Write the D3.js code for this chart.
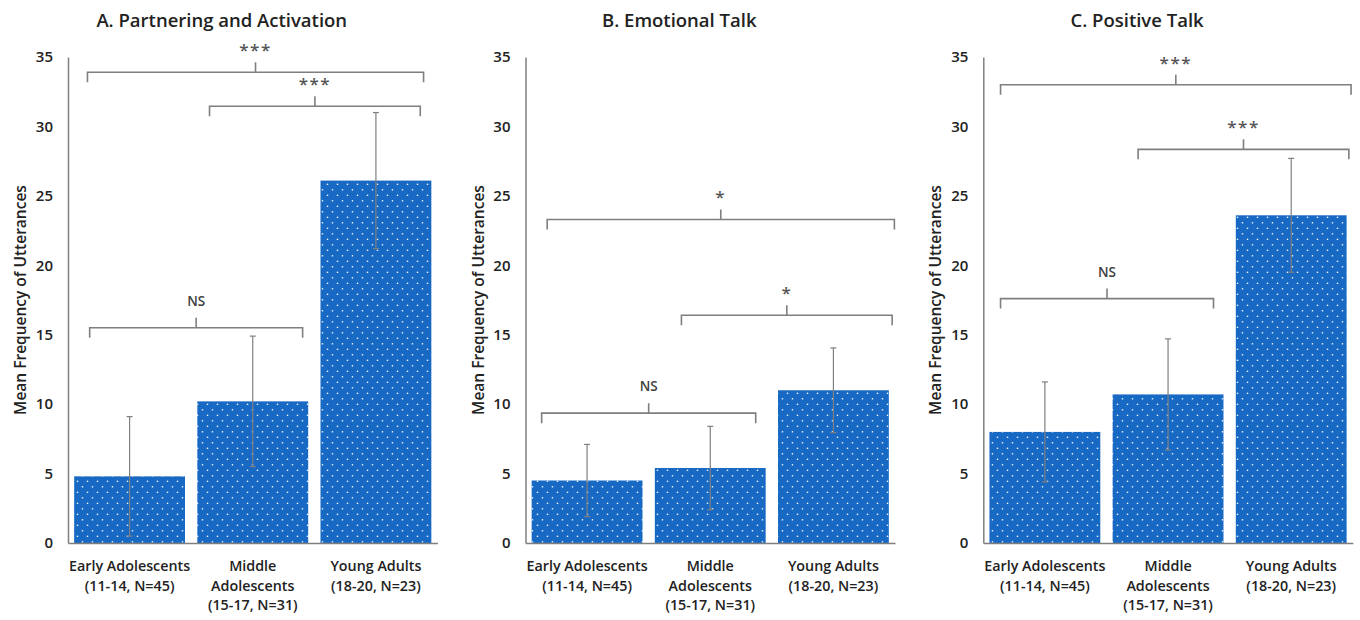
<!DOCTYPE html>
<html>
<head>
<meta charset="utf-8">
<script src="https://cdn.jsdelivr.net/npm/d3@7"></script>
<style>
  html, body { margin: 0; padding: 0; background: #fff; }
  svg { display: block; font-family: "Open Sans", "DejaVu Sans", sans-serif; }
</style>
</head>
<body>
<svg id="chart" width="1360" height="620"></svg>
<script>
// ---------- data ----------
const categories = [
  ["Early Adolescents", "(11-14, N=45)"],
  ["Middle", "Adolescents", "(15-17, N=31)"],
  ["Young Adults", "(18-20, N=23)"]
];
const panelTitles = ["A. Partnering and Activation", "B. Emotional Talk", "C. Positive Talk"];
const yTicks = [0, 5, 10, 15, 20, 25, 30, 35];
const yLabel = "Mean Frequency of Utterances";

const partneringMeans = [4.8, 10.2, 26.1];
const partneringErr   = [4.3, 4.7, 4.9];
const emotionalMeans  = [4.5, 5.4, 11.0];
const emotionalErr    = [2.6, 3.0, 3.05];
const positiveMeans   = [8.0, 10.7, 23.6];
const positiveErr     = [3.6, 4.0, 4.1];

// significance brackets: [fromCategory, fromFraction, toCategory, toFraction, level, label]
const partneringBrackets = [
  [0, 0.12, 2, 0.93, 33.9, "***"],
  [1, 0.11, 2, 0.90, 31.45, "***"],
  [0, 0.14, 1, 0.95, 15.5, "NS"]
];
const emotionalBrackets = [
  [0, 0.14, 2, 1.05, 23.3, "*"],
  [1, 0.24, 2, 1.03, 16.4, "*"],
  [0, 0.09, 1, 0.91, 9.35, "NS"]
];
const positiveBrackets = [
  [0, 0.10, 2, 1.04, 33.0, "***"],
  [1, 0.23, 2, 1.02, 28.35, "***"],
  [0, 0.10, 1, 0.91, 17.6, "NS"]
];

const panels = [
  { title: panelTitles[0], means: partneringMeans, err: partneringErr, brackets: partneringBrackets },
  { title: panelTitles[1], means: emotionalMeans,  err: emotionalErr,  brackets: emotionalBrackets },
  { title: panelTitles[2], means: positiveMeans,   err: positiveErr,   brackets: positiveBrackets }
];

// ---------- layout ----------
const svg = d3.select("#chart");
const axisLefts = [68, 525.5, 983.3];
const plotW = 369.5;
const yTop = 57, yBottom = 543;
const barColor = "#1769c4";
const grey = "#7f7f7f";
const textColor = "#222";

const defs = svg.append("defs");
const pat = defs.append("pattern")
  .attr("id", "dots").attr("patternUnits", "userSpaceOnUse")
  .attr("width", 10).attr("height", 11);
pat.append("rect").attr("width", 10).attr("height", 11).attr("fill", barColor);
pat.append("circle").attr("cx", 2.5).attr("cy", 2.75).attr("r", 0.85).attr("fill", "#ffffff").attr("opacity", 0.9);
pat.append("circle").attr("cx", 7.5).attr("cy", 8.25).attr("r", 0.85).attr("fill", "#ffffff").attr("opacity", 0.9);

const y = d3.scaleLinear().domain([0, 35]).range([yBottom, yTop]);

panels.forEach((p, pi) => {
  const x0 = axisLefts[pi];
  const x = d3.scaleBand().domain(d3.range(categories.length))
    .range([x0, x0 + plotW]).paddingInner(0.1).paddingOuter(0.05);
  const g = svg.append("g");

  // title
  g.append("text")
    .attr("x", x0 + plotW / 2 - 31).attr("y", 27)
    .attr("text-anchor", "middle")
    .attr("font-size", 18.5).attr("font-weight", 600).attr("fill", textColor)
    .text(p.title);

  // y axis title
  g.append("text")
    .attr("transform", `translate(${x0 - 42},${(yTop + yBottom) / 2}) rotate(-90)`)
    .attr("text-anchor", "middle")
    .attr("font-size", 15.5).attr("font-weight", 600).attr("fill", textColor)
    .text(yLabel);

  // bars
  g.selectAll("rect.bar").data(p.means).join("rect")
    .attr("class", "bar")
    .attr("x", (d, i) => x(i)).attr("width", x.bandwidth())
    .attr("y", d => y(d)).attr("height", d => y(0) - y(d))
    .attr("fill", "url(#dots)");

  // error bars
  const eb = g.selectAll("g.err").data(p.means).join("g").attr("class", "err");
  eb.append("line")
    .attr("x1", (d, i) => x(i) + x.bandwidth() / 2).attr("x2", (d, i) => x(i) + x.bandwidth() / 2)
    .attr("y1", (d, i) => y(d + p.err[i])).attr("y2", (d, i) => y(d - p.err[i]))
    .attr("stroke", grey).attr("stroke-width", 1.2);
  eb.append("line")
    .attr("x1", (d, i) => x(i) + x.bandwidth() / 2 - 3).attr("x2", (d, i) => x(i) + x.bandwidth() / 2 + 3)
    .attr("y1", (d, i) => y(d + p.err[i])).attr("y2", (d, i) => y(d + p.err[i]))
    .attr("stroke", grey).attr("stroke-width", 1.2);
  eb.append("line")
    .attr("x1", (d, i) => x(i) + x.bandwidth() / 2 - 3).attr("x2", (d, i) => x(i) + x.bandwidth() / 2 + 3)
    .attr("y1", (d, i) => y(d - p.err[i])).attr("y2", (d, i) => y(d - p.err[i]))
    .attr("stroke", grey).attr("stroke-width", 1.2);

  // y axis
  const yAxis = g.append("g").attr("transform", `translate(${x0},0)`)
    .call(d3.axisLeft(y).tickValues(yTicks).tickSize(0).tickPadding(15));
  yAxis.select(".domain").attr("stroke", grey).attr("stroke-width", 1.5);
  yAxis.selectAll("text").attr("font-size", 15).attr("font-weight", 600).attr("fill", textColor)
    .attr("font-family", "\"Open Sans\", sans-serif");

  // x axis
  const xAxis = g.append("g").attr("transform", `translate(0,${yBottom})`)
    .call(d3.axisBottom(x).tickSize(0).tickFormat(""));
  xAxis.select(".domain").attr("stroke", grey).attr("stroke-width", 1.5);

  // category labels
  categories.forEach((lines, i) => {
    const t = g.append("text")
      .attr("text-anchor", "middle")
      .attr("font-size", 14.3).attr("font-weight", 600).attr("fill", textColor);
    lines.forEach((ln, li) => {
      t.append("tspan")
        .attr("x", x(i) + x.bandwidth() / 2)
        .attr("y", yBottom + 28 + li * 19.7)
        .text(ln);
    });
  });

  // significance brackets
  p.brackets.forEach(b => {
    const xa = x(b[0]) + b[1] * x.bandwidth();
    const xb = x(b[2]) + b[3] * x.bandwidth();
    const yl = y(b[4]);
    const xm = (xa + xb) / 2;
    g.append("path")
      .attr("d", `M${xa},${yl + 10}V${yl}H${xb}V${yl + 10}M${xm},${yl}V${yl - 10}`)
      .attr("fill", "none").attr("stroke", grey).attr("stroke-width", 1.6);
    const isNS = b[5] === "NS";
    g.append("text")
      .attr("x", xm).attr("y", isNS ? yl - 22 : yl - 16)
      .attr("text-anchor", "middle")
      .attr("font-size", isNS ? 13.5 : 17)
      .attr("font-weight", 600)
      .attr("fill", isNS ? "#404040" : "#555")
      .attr("letter-spacing", isNS ? 0 : 1.5)
      .text(b[5]);
  });
});
</script>
</body>
</html>
